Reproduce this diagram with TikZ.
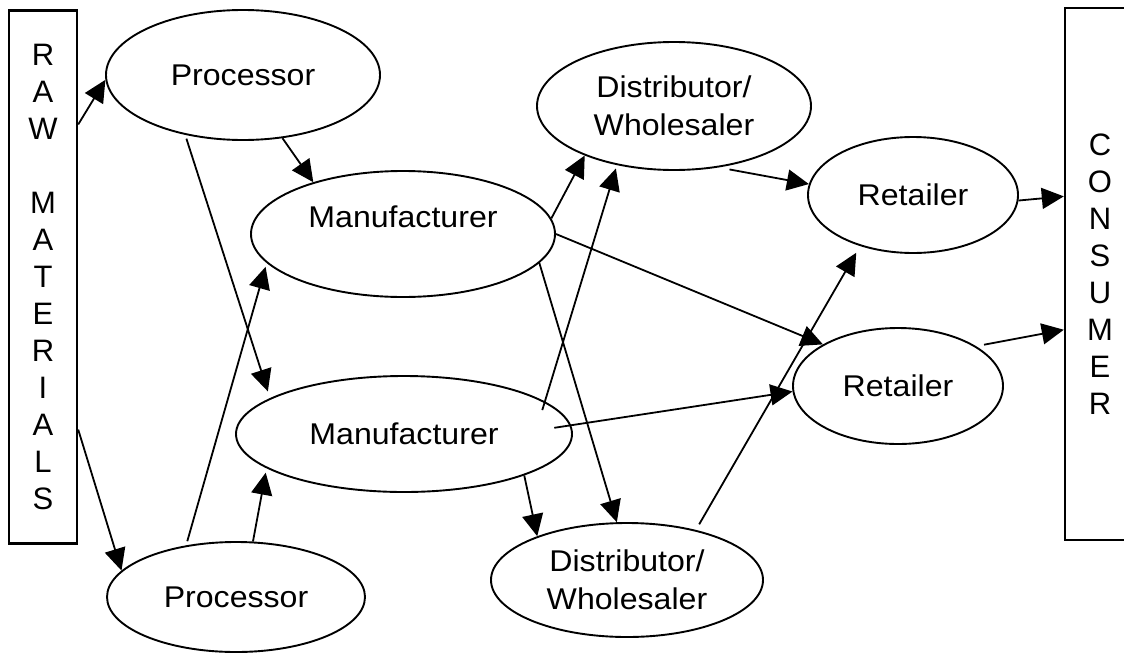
\documentclass[tikz,border=0pt]{standalone}
\usepackage{fontspec}
\setmainfont{Liberation Sans}
\newfontfamily\labfont[FakeStretch=1.07]{Liberation Sans}
\usetikzlibrary{shapes.geometric,arrows.meta}
\begin{document}
\begin{tikzpicture}[x=1pt,y=-1pt,
  every node/.style={font=\labfont\fontsize{30pt}{37.5pt}\selectfont},
  oval/.style={ellipse, draw, line width=1.9pt, inner sep=0pt, align=center},
  column/.style={rectangle, draw, line width=2.4pt, inner sep=0pt, align=center,
    font=\fontsize{31pt}{37pt}\selectfont},
  flow/.style={line width=1.8pt, -{Triangle[length=22pt,width=21pt]}}
]
\clip (0,0) rectangle (1124,656);

% end columns
\node[column, minimum width=68pt, minimum height=533pt] (raw) at (43,277)
  {R\\A\\W\\[37pt]M\\A\\T\\E\\R\\I\\A\\L\\S};
\node[column, minimum width=70pt, minimum height=532pt] (cons) at (1100,274)
  {C\\O\\N\\S\\U\\M\\E\\R};

% stages of the chain
\node[oval, minimum width=274pt, minimum height=130pt] (proc1) at (243,75) {Processor};
\node[oval, minimum width=258pt, minimum height=110pt] (proc2) at (236,597) {Processor};
\node[oval, minimum width=304pt, minimum height=126pt, text depth=34pt] (manu1) at (403,234) {Manufacturer};
\node[oval, minimum width=336pt, minimum height=116pt] (manu2) at (404,434) {Manufacturer};
\node[oval, minimum width=274pt, minimum height=128pt] (dist1) at (674,106) {Distributor/\\Wholesaler};
\node[oval, minimum width=272pt, minimum height=114pt] (dist2) at (627,580) {Distributor/\\Wholesaler};
\node[oval, minimum width=210pt, minimum height=116pt] (ret1) at (913,195) {Retailer};
\node[oval, minimum width=210pt, minimum height=116pt] (ret2) at (898,386) {Retailer};

% flows
\draw[flow] (raw.77.5) -- (proc1.182);
\draw[flow] (raw.-77.5) -- (proc2.167);
\draw[flow] (proc1.-58) -- (manu1.150.5);
\draw[flow, shorten <=4pt, shorten >=7pt] (proc1.-134) -- (manu2.165.4);
\draw[flow, shorten <=4.3pt, shorten >=4pt] (proc2.134.2) -- (manu1.192.6);
\draw[flow, shorten >=4.5pt] (proc2.73) -- (manu2.194.4);
\draw[flow] (manu1.6.1) -- (dist1.209.8);
\draw[flow, shorten <=-9pt, shorten >=3.5pt] (manu2.13.4) -- (dist1.226.9);
\draw[flow] (manu1.0) -- (ret2.151.3);
\draw[flow] (manu1.-12.9) -- (dist2.100);
\draw[flow] (manu2.-19.4) -- (dist2.154.5);
\draw[flow, shorten <=-17pt] (manu2.3.1) -- (ret2.183.3);
\draw[flow, shorten <=6.5pt, shorten >=7.7pt] (dist2.36.1) -- (ret1.224);
\draw[flow, shorten <=11pt] (dist1.-54.6) -- (ret1.174.6);
\draw[flow] (ret1.-3) -- (cons.115.6);
\draw[flow, shorten <=8pt] (ret2.27.1) -- (cons.237.5);
\end{tikzpicture}
\end{document}
